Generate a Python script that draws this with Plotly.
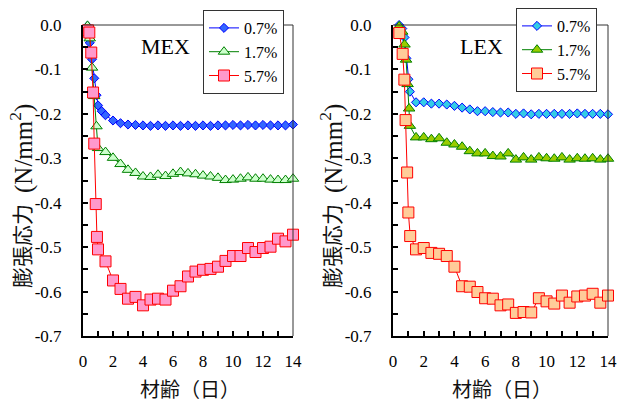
import plotly.graph_objects as go

# ---------------- DATA ----------------
# MEX panel
mex_07_x = [0.3, 0.45, 0.6, 0.75, 0.9, 1.0, 1.25, 1.5, 2.0, 2.5, 3.0, 3.5, 4.0, 4.5, 5.0, 5.5, 6.0, 6.5, 7.0, 7.5,
            8.0, 8.5, 9.0, 9.5, 10.0, 10.5, 11.0, 11.5, 12.0, 12.5, 13.0, 13.5, 14.0]
mex_07_y = [-0.002, -0.04, -0.077, -0.12, -0.158, -0.181, -0.194, -0.203, -0.215, -0.221, -0.224, -0.225, -0.226,
            -0.227, -0.226, -0.227, -0.226, -0.227, -0.226, -0.227, -0.226, -0.227, -0.226, -0.226, -0.225, -0.226,
            -0.225, -0.226, -0.225, -0.226, -0.226, -0.226, -0.224]

mex_17_x = [0.3, 0.45, 0.6, 0.75, 0.9, 1.0, 1.5, 2.0, 2.5, 3.0, 3.5, 4.0, 4.5, 5.0, 5.5, 6.0, 6.5, 7.0, 7.5,
            8.0, 8.5, 9.0, 9.5, 10.0, 10.5, 11.0, 11.5, 12.0, 12.5, 13.0, 13.5, 14.0]
mex_17_y = [-0.002, -0.03, -0.096, -0.16, -0.228, -0.277, -0.286, -0.299, -0.313, -0.326, -0.333, -0.341, -0.342,
            -0.337, -0.340, -0.335, -0.331, -0.334, -0.336, -0.339, -0.341, -0.344, -0.349, -0.348, -0.346, -0.343,
            -0.346, -0.346, -0.348, -0.349, -0.349, -0.346]

mex_57_x = [0.33, 0.42, 0.55, 0.67, 0.75, 0.85, 0.93, 1.0, 1.5, 2.0, 2.5, 3.0, 3.5, 4.0, 4.5, 5.0, 5.5, 6.0, 6.5,
            7.0, 7.5, 8.0, 8.5, 9.0, 9.5, 10.0, 10.5, 11.0, 11.5, 12.0, 12.5, 13.0, 13.5, 14.0]
mex_57_y = [-0.012, -0.017, -0.062, -0.152, -0.267, -0.403, -0.477, -0.505, -0.532, -0.575, -0.594, -0.616, -0.612,
            -0.631, -0.618, -0.616, -0.618, -0.598, -0.588, -0.566, -0.555, -0.551, -0.549, -0.544, -0.531, -0.520,
            -0.520, -0.502, -0.511, -0.502, -0.499, -0.481, -0.487, -0.472]

# LEX panel
lex_07_x = [0.4, 0.6, 0.75, 0.87, 1.0, 1.1, 1.5, 2.0, 2.5, 3.0, 3.5, 4.0, 4.5, 5.0, 5.5, 6.0, 6.5, 7.0, 7.5,
            8.0, 8.5, 9.0, 9.5, 10.0, 10.5, 11.0, 11.5, 12.0, 12.5, 13.0, 13.5, 14.0]
lex_07_y = [0.0, -0.008, -0.028, -0.075, -0.122, -0.15, -0.174, -0.174, -0.177, -0.177, -0.179, -0.182, -0.186,
            -0.190, -0.194, -0.194, -0.196, -0.197, -0.197, -0.200, -0.199, -0.201, -0.200, -0.200, -0.200, -0.200,
            -0.200, -0.199, -0.200, -0.200, -0.200, -0.201]

lex_17_x = [0.4, 0.6, 0.75, 0.85, 0.95, 1.05, 1.1, 1.5, 2.0, 2.5, 3.0, 3.5, 4.0, 4.5, 5.0, 5.5, 6.0, 6.5, 7.0, 7.5,
            8.0, 8.5, 9.0, 9.5, 10.0, 10.5, 11.0, 11.5, 12.0, 12.5, 13.0, 13.5, 14.0]
lex_17_y = [-0.003, -0.015, -0.044, -0.078, -0.133, -0.188, -0.227, -0.253, -0.253, -0.257, -0.255, -0.265, -0.269,
            -0.274, -0.284, -0.289, -0.289, -0.295, -0.296, -0.289, -0.303, -0.298, -0.303, -0.298, -0.300, -0.301,
            -0.298, -0.303, -0.300, -0.301, -0.300, -0.303, -0.301]

lex_57_x = [0.41, 0.63, 0.74, 0.82, 0.92, 1.0, 1.12, 1.5, 2.0, 2.5, 3.0, 3.5, 4.0, 4.5, 5.0, 5.5, 6.0, 6.5, 7.0,
            7.5, 8.0, 8.5, 9.0, 9.5, 10.0, 10.5, 11.0, 11.5, 12.0, 12.5, 13.0, 13.5, 14.0]
lex_57_y = [-0.018, -0.065, -0.123, -0.214, -0.332, -0.422, -0.475, -0.505, -0.502, -0.513, -0.515, -0.520, -0.544,
            -0.588, -0.589, -0.601, -0.615, -0.616, -0.631, -0.629, -0.648, -0.646, -0.647, -0.615, -0.622, -0.627,
            -0.609, -0.625, -0.611, -0.609, -0.605, -0.625, -0.609]

series_names = ["0.7%", "1.7%", "5.7%"]
x_tickvals = [0, 2, 4, 6, 8, 10, 12, 14]
x_ticktext = ["0", "2", "4", "6", "8", "10", "12", "14"]
y_tickvals = [0.0, -0.1, -0.2, -0.3, -0.4, -0.5, -0.6, -0.7]
y_ticktext = ["0.0", "-0.1", "-0.2", "-0.3", "-0.4", "-0.5", "-0.6", "-0.7"]
panel_labels = ["MEX", "LEX"]
x_title = "材齢（日）"
y_title_jp = "膨張応力"
y_title_unit = "(N/mm<sup>2</sup>)"

# ---------------- FIGURE ----------------
W, H = 627, 403
SERIF = "Liberation Serif"
JP = "Noto Sans CJK JP"

fig = go.Figure()


def add(x, y, name, xa, ya, legend, symbol, size, fill, line):
    fig.add_trace(go.Scatter(
        x=x, y=y, name=name, mode="lines+markers", xaxis=xa, yaxis=ya, legend=legend,
        line=dict(color=line, width=1),
        marker=dict(symbol=symbol, size=size, color=fill, line=dict(color=line, width=1)),
        cliponaxis=False,
    ))


add(mex_07_x, mex_07_y, series_names[0], "x", "y", "legend", "diamond", 7, "#3366ff", "#0000ff")
add(mex_17_x, mex_17_y, series_names[1], "x", "y", "legend", "triangle-up", 10, "#ccffcc", "#008000")
add(mex_57_x, mex_57_y, series_names[2], "x", "y", "legend", "square", 11, "#ff99cc", "#ff0000")

add(lex_07_x, lex_07_y, series_names[0], "x2", "y2", "legend2", "diamond", 7, "#33cce6", "#0000ff")
add(lex_17_x, lex_17_y, series_names[1], "x2", "y2", "legend2", "triangle-up", 10, "#99cc00", "#008000")
add(lex_57_x, lex_57_y, series_names[2], "x2", "y2", "legend2", "square", 11, "#ffcc99", "#ff0000")

yd = [1 - 336 / H, 1 - 25 / H]
xd1 = [83 / W, 293 / W]
xd2 = [393 / W, 608 / W]

tickfont = dict(family=SERIF, size=17, color="black")


def xaxis(domain, anchor):
    return dict(domain=domain, anchor=anchor, range=[0, 14], tickmode="array", tickvals=x_tickvals,
                ticktext=x_ticktext, ticks="inside", ticklen=5, tickwidth=1.5, tickcolor="black",
                showline=True, linecolor="black", linewidth=2, showgrid=False, zeroline=False,
                tickfont=tickfont, ticklabelstandoff=9, automargin=False,
                minor=dict(tickmode="linear", tick0=0, dtick=1, ticks="inside", ticklen=5, tickwidth=1.5,
                           tickcolor="black", showgrid=False))


def yaxis(anchor):
    return dict(domain=yd, anchor=anchor, range=[-0.7, 0], tickmode="array", tickvals=y_tickvals,
                ticktext=y_ticktext, ticks="inside", ticklen=5, tickwidth=1.5, tickcolor="black",
                showline=True, linecolor="black", linewidth=2, showgrid=False, zeroline=False,
                tickfont=tickfont, ticklabelstandoff=16, automargin=False,
                minor=dict(tickmode="linear", tick0=0, dtick=0.05, ticks="inside", ticklen=5, tickwidth=1.5,
                           tickcolor="black", showgrid=False))


annotations = []
for xc, lab in zip([165 / W, 481 / W], panel_labels):
    annotations.append(dict(text=lab, x=xc, y=1 - 47 / H, xref="paper", yref="paper", showarrow=False,
                            xanchor="center", yanchor="middle",
                            font=dict(family=SERIF, size=22, color="black")))
for xc in [190 / W, 502 / W]:
    annotations.append(dict(text=x_title, x=xc, y=1 - 388 / H, xref="paper", yref="paper", showarrow=False,
                            font=dict(family=JP, size=20, color="#111"), xanchor="center", yanchor="middle"))
for xc in [21 / W, 331 / W]:
    annotations.append(dict(text=y_title_jp, x=xc, y=1 - 246 / H, xref="paper", yref="paper", showarrow=False,
                            textangle=-90, font=dict(family=JP, size=21, color="#111"),
                            xanchor="center", yanchor="middle"))
    annotations.append(dict(text=y_title_unit, x=xc, y=1 - 149 / H, xref="paper", yref="paper", showarrow=False,
                            textangle=-90, font=dict(family=SERIF, size=25, color="#111"),
                            xanchor="center", yanchor="middle"))

shapes = []
for xr, yr in [("x domain", "y domain"), ("x2 domain", "y2 domain")]:
    shapes.append(dict(type="line", xref=xr, yref=yr, x0=0, x1=1, y0=1, y1=1, line=dict(color="#333", width=1)))
    shapes.append(dict(type="line", xref=xr, yref=yr, x0=1, x1=1, y0=0, y1=1, line=dict(color="#333", width=1)))

legfont = dict(family=SERIF, size=16, color="black")
fig.update_layout(
    template="none",
    width=W, height=H, margin=dict(l=0, r=0, t=0, b=0, autoexpand=False),
    paper_bgcolor="white", plot_bgcolor="white",
    xaxis=xaxis(xd1, "y"), yaxis=yaxis("x"),
    xaxis2=xaxis(xd2, "y2"), yaxis2=yaxis("x2"),
    showlegend=True,
    legend=dict(x=203 / W, y=1 - 10 / H, xanchor="left", yanchor="top", bgcolor="white",
                bordercolor="#333", borderwidth=1, font=legfont, tracegroupgap=0, itemwidth=30),
    legend2=dict(x=516 / W, y=1 - 8 / H, xanchor="left", yanchor="top", bgcolor="white",
                 bordercolor="#333", borderwidth=1, font=legfont, tracegroupgap=0, itemwidth=30),
    annotations=annotations, shapes=shapes,
)

fig.write_html("out.html", config={"displayModeBar": False},
               post_script="document.body.style.margin='0px';")
